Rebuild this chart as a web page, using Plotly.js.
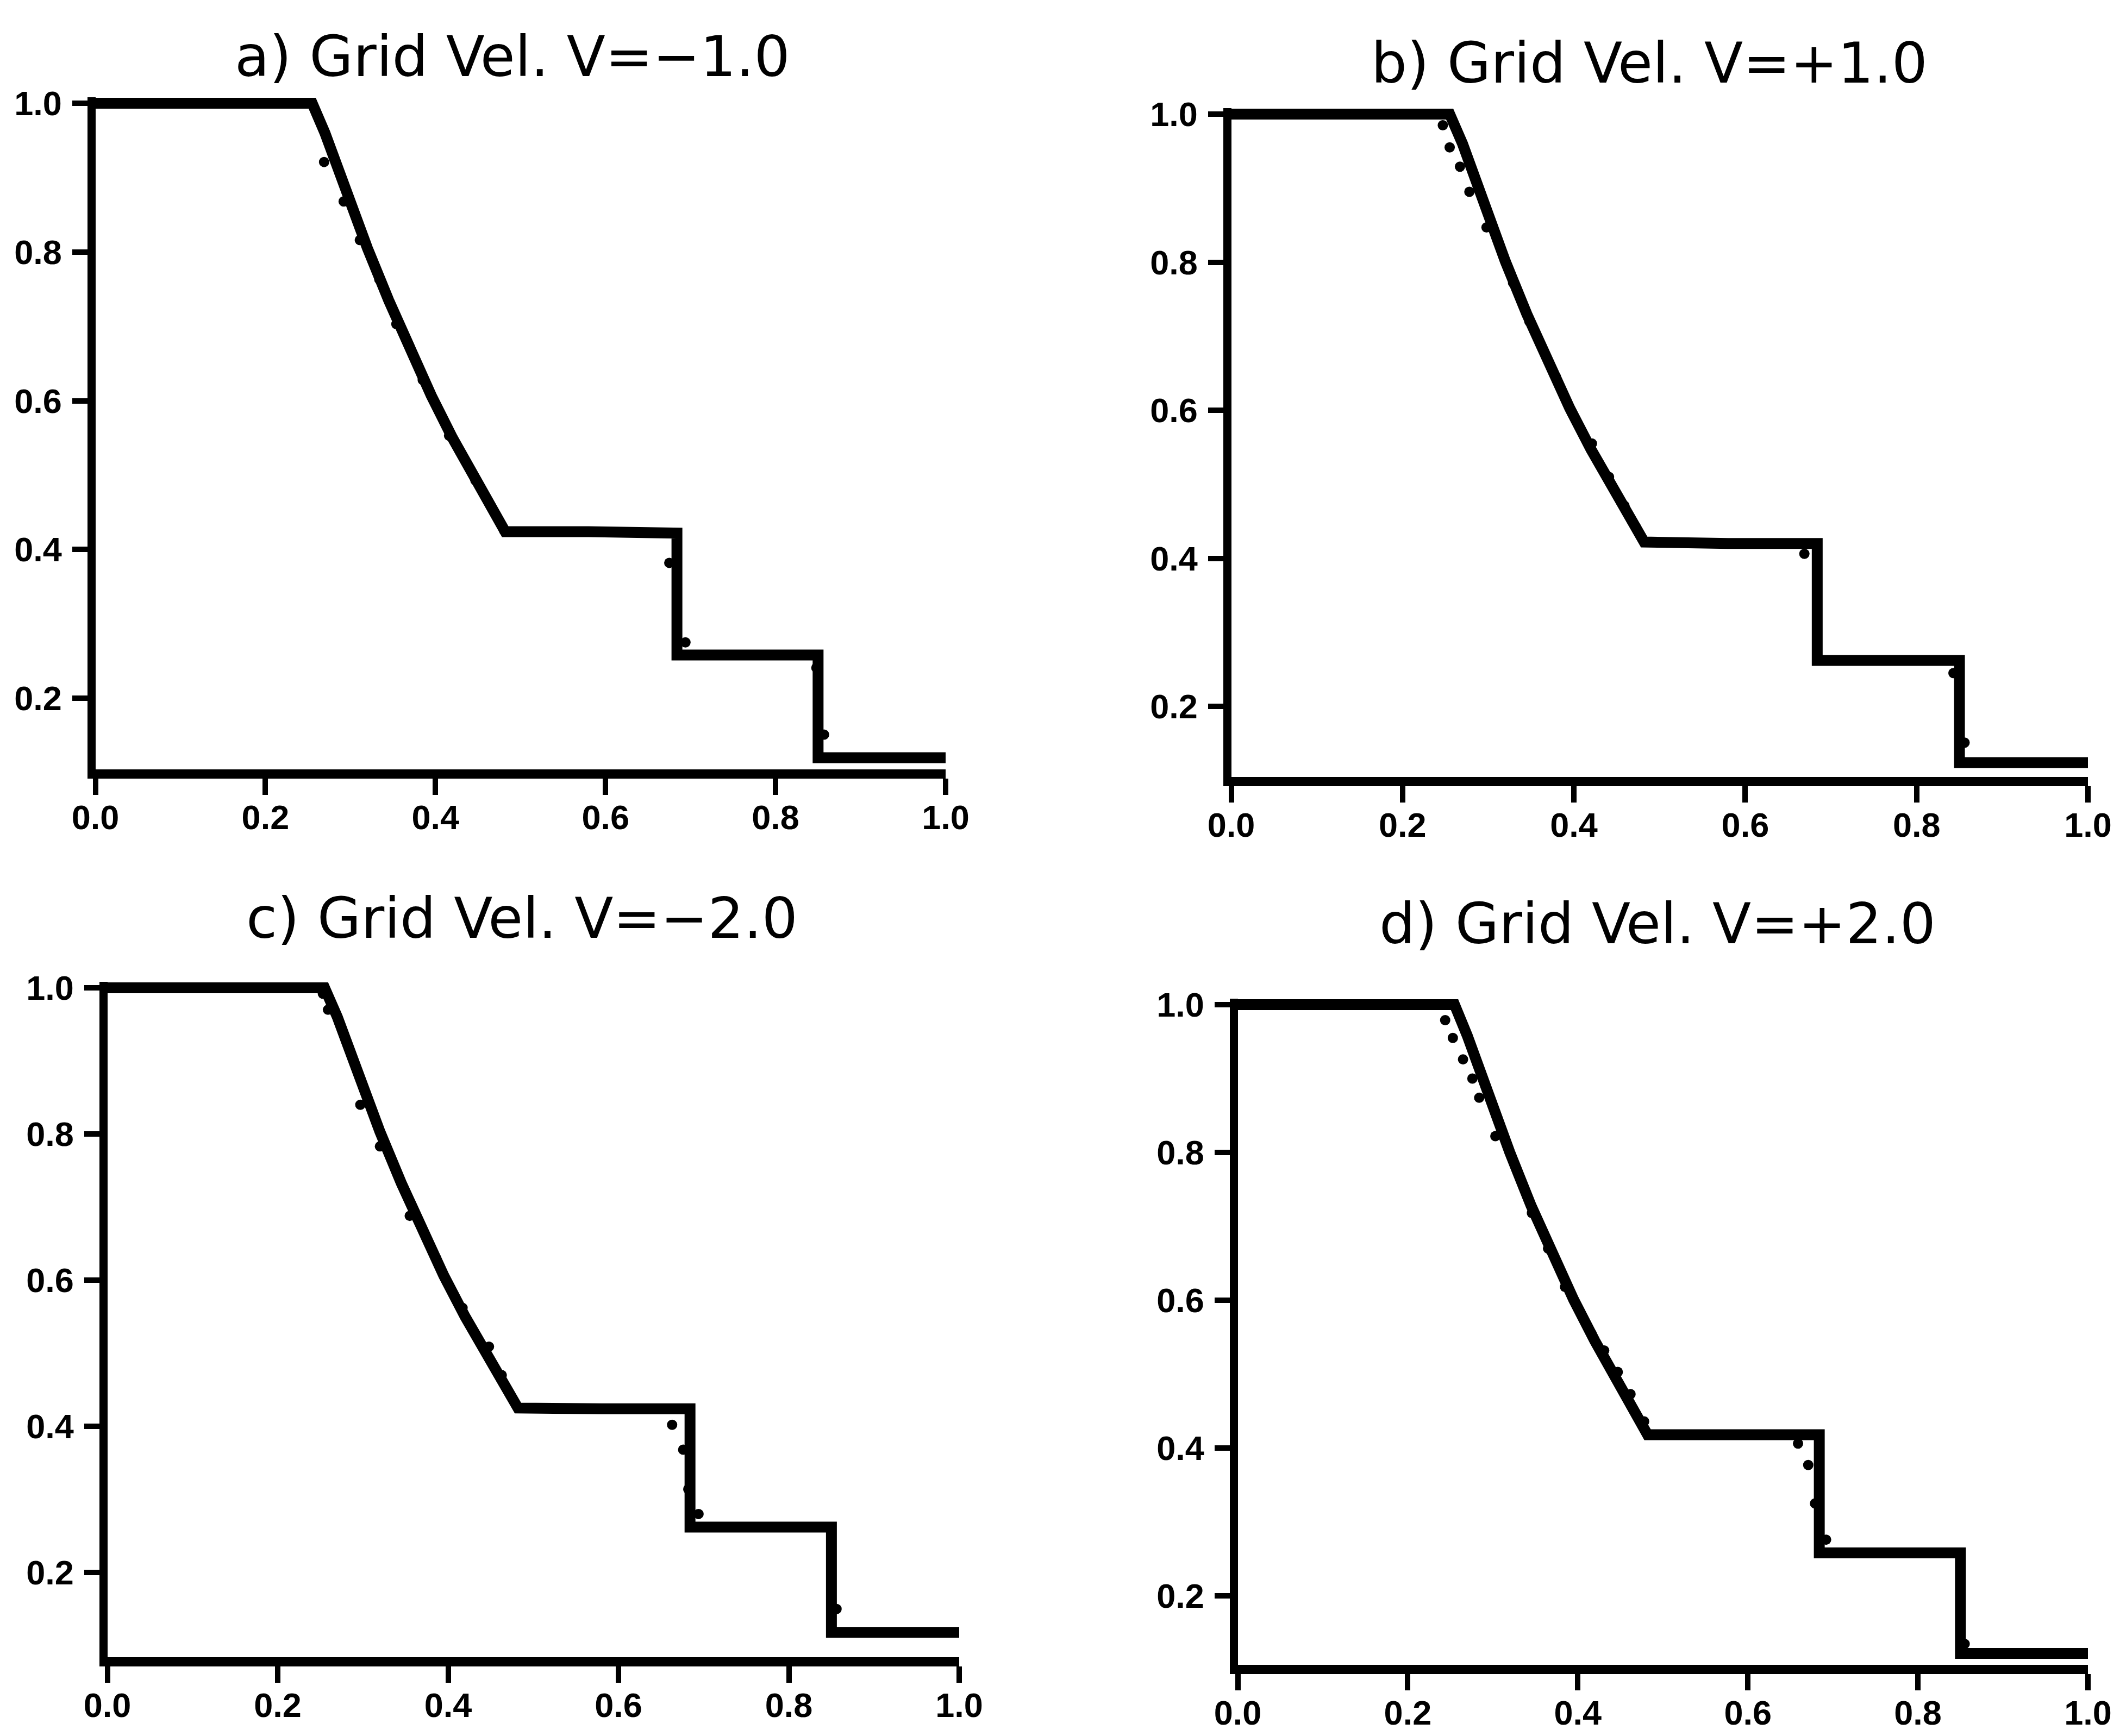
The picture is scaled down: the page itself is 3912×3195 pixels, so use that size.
<!DOCTYPE html>
<html>
<head>
<meta charset="utf-8">
<script src="https://cdn.plot.ly/plotly-3.0.1.min.js"></script>
<style>html,body{margin:0;padding:0;background:#fff;}#chart{width:3912px;height:3195px;}</style>
</head>
<body>
<div id="chart"></div>
<script>
// ---- data ----
const panelTitles = ["a) Grid Vel. V=\u22121.0", "b) Grid Vel. V=+1.0", "c) Grid Vel. V=\u22122.0", "d) Grid Vel. V=+2.0"];
const xTickVals = [0, 0.2, 0.4, 0.6, 0.8, 1.0];
const xTickText = ["0.0", "0.2", "0.4", "0.6", "0.8", "1.0"];
const yTickVals = [0.2, 0.4, 0.6, 0.8, 1.0];
const yTickText = ["0.2", "0.4", "0.6", "0.8", "1.0"];

// solid curve (same x breakpoints for all panels)
const lineX = [0, 0.255, 0.27, 0.295, 0.32, 0.345, 0.37, 0.395, 0.42, 0.445, 0.47, 0.482, 0.58, 0.684, 0.684, 0.77, 0.85, 0.85, 1.0];
const lineA = [1.0, 1.0, 0.96, 0.88, 0.805, 0.735, 0.668, 0.607, 0.55, 0.497, 0.447, 0.424, 0.424, 0.422, 0.258, 0.258, 0.258, 0.12, 0.12];
const lineB = [1.0, 1.0, 0.96, 0.878, 0.801, 0.73, 0.664, 0.603, 0.547, 0.495, 0.446, 0.422, 0.42, 0.42, 0.262, 0.262, 0.262, 0.124, 0.124];
const lineC = [1.0, 1.0, 0.96, 0.88, 0.803, 0.733, 0.667, 0.606, 0.55, 0.498, 0.448, 0.425, 0.424, 0.424, 0.262, 0.262, 0.262, 0.118, 0.118];
const lineD = [1.0, 1.0, 0.958, 0.876, 0.8, 0.728, 0.662, 0.601, 0.545, 0.493, 0.444, 0.418, 0.418, 0.418, 0.258, 0.258, 0.258, 0.122, 0.122];

// dots (numerical solution) visible beside the curve
const dotsAx = [0.269, 0.292, 0.311, 0.334, 0.354, 0.385, 0.416, 0.447, 0.481, 0.675, 0.694, 0.848, 0.857];
const dotsAy = [0.921, 0.868, 0.816, 0.763, 0.703, 0.628, 0.553, 0.493, 0.425, 0.382, 0.275, 0.241, 0.151];
const dotsBx = [0.247, 0.255, 0.267, 0.278, 0.298, 0.329, 0.348, 0.379, 0.398, 0.421, 0.441, 0.459, 0.472, 0.669, 0.843, 0.856];
const dotsBy = [0.985, 0.955, 0.929, 0.895, 0.847, 0.772, 0.72, 0.645, 0.596, 0.555, 0.51, 0.471, 0.443, 0.406, 0.245, 0.151];
const dotsCx = [0.253, 0.259, 0.297, 0.32, 0.355, 0.386, 0.417, 0.448, 0.463, 0.663, 0.676, 0.682, 0.694, 0.856];
const dotsCy = [0.992, 0.97, 0.84, 0.783, 0.688, 0.63, 0.562, 0.509, 0.47, 0.402, 0.368, 0.314, 0.28, 0.15];
const dotsDx = [0.244, 0.253, 0.265, 0.276, 0.284, 0.303, 0.346, 0.365, 0.385, 0.416, 0.431, 0.447, 0.462, 0.478, 0.659, 0.671, 0.679, 0.692, 0.855];
const dotsDy = [0.979, 0.955, 0.926, 0.9, 0.874, 0.822, 0.718, 0.67, 0.618, 0.555, 0.532, 0.503, 0.473, 0.436, 0.406, 0.377, 0.325, 0.276, 0.135];

// ---- layout (pixel geometry: y of 1.0, y of 0.2, y of x-axis line centre) ----
const W = 3912, H = 3195;
const XLW = 17, YLW = 15;
const geo = [
  {x0: 168, x1: 1740, y10: 190, y02: 1285, yAx: 1424, tx: 943, ty: 104},
  {x0: 2258, x1: 3842, y10: 210, y02: 1300, yAx: 1438, tx: 3035, ty: 116},
  {x0: 190, x1: 1765, y10: 1818, y02: 2894, yAx: 3058, tx: 960, ty: 1690},
  {x0: 2270, x1: 3842, y10: 1849, y02: 2937, yAx: 3072, tx: 3050, ty: 1700}
];
const lines = [lineA, lineB, lineC, lineD];
const dots = [[dotsAx, dotsAy], [dotsBx, dotsBy], [dotsCx, dotsCy], [dotsDx, dotsDy]];

const traces = [];
const layout = {
  width: W, height: H,
  margin: {l: 0, r: 0, t: 0, b: 0, pad: 0},
  paper_bgcolor: "#fff", plot_bgcolor: "#fff",
  showlegend: false,
  annotations: []
};

const tickFont = {family: "Liberation Sans, Arial, sans-serif", size: 63, color: "#000", weight: "bold"};
const topPad = 0.008;

geo.forEach((g, i) => {
  const n = i + 1;
  const xa = "x" + (n === 1 ? "" : n);
  const ya = "y" + (n === 1 ? "" : n);
  const xk = "xaxis" + (n === 1 ? "" : n);
  const yk = "yaxis" + (n === 1 ? "" : n);
  const scale = (g.y02 - g.y10) / 0.8;          // px per unit
  const domBot = g.yAx - XLW / 2;               // axis line is drawn outside the plot area
  const ymin = 1 - (domBot - g.y10) / scale;
  const topPix = g.y10 - topPad * scale;

  traces.push({
    x: lineX, y: lines[i], xaxis: xa, yaxis: ya, type: "scatter", mode: "lines",
    line: {color: "#000", width: 20}, hoverinfo: "skip"
  });
  traces.push({
    x: dots[i][0], y: dots[i][1], xaxis: xa, yaxis: ya, type: "scatter", mode: "markers",
    marker: {color: "#000", size: 19}, cliponaxis: false, hoverinfo: "skip"
  });

  layout[xk] = {
    domain: [(g.x0 + YLW / 2) / W, g.x1 / W], range: [0, 1], anchor: ya,
    showgrid: false, zeroline: false,
    showline: true, linecolor: "#000", linewidth: XLW,
    ticks: "outside", ticklen: 30, tickwidth: 10, tickcolor: "#000",
    tickvals: xTickVals, ticktext: xTickText, tickfont: tickFont,
    ticklabelstandoff: -12, fixedrange: true
  };
  layout[yk] = {
    domain: [1 - domBot / H, 1 - topPix / H], range: [ymin, 1 + topPad], anchor: xa,
    showgrid: false, zeroline: false,
    showline: true, linecolor: "#000", linewidth: YLW,
    ticks: "outside", ticklen: 28, tickwidth: 10, tickcolor: "#000",
    tickvals: yTickVals, ticktext: yTickText, tickfont: tickFont,
    ticklabelstandoff: 6, fixedrange: true
  };
  layout.annotations.push({
    text: panelTitles[i], xref: "paper", yref: "paper",
    x: g.tx / W, y: 1 - g.ty / H, xanchor: "center", yanchor: "middle",
    showarrow: false,
    font: {family: "DejaVu Sans, sans-serif", size: 104, color: "#000"}
  });
});

Plotly.newPlot("chart", traces, layout, {staticPlot: true, displayModeBar: false});
</script>
</body>
</html>
